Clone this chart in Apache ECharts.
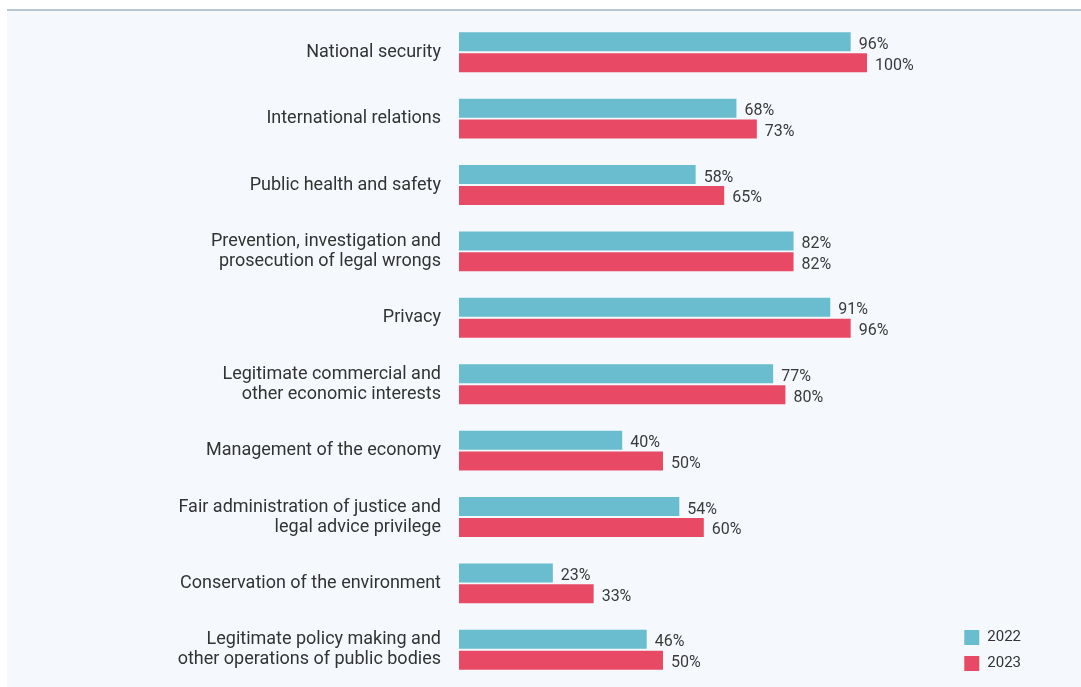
<!DOCTYPE html>
<html><head><meta charset="utf-8">
<script src="https://cdn.jsdelivr.net/npm/echarts@6/dist/echarts.min.js"></script>
<style>
html,body{margin:0;padding:0;background:#ffffff;width:1081px;height:687px;overflow:hidden;}
#panel{position:absolute;left:7px;top:9px;width:1074px;height:678px;background:#f5f9fd;border-top:2px solid #b9c5d1;box-sizing:border-box;}
#chart{position:absolute;left:0;top:0;width:1081px;height:687px;}
</style></head>
<body>
<div id="panel"></div>
<div id="chart"></div>
<script>
const categories = [
  "National security",
  "International relations",
  "Public health and safety",
  "Prevention, investigation and\nprosecution of legal wrongs",
  "Privacy",
  "Legitimate commercial and\nother economic interests",
  "Management of the economy",
  "Fair administration of justice and\nlegal advice privilege",
  "Conservation of the environment",
  "Legitimate policy making and\nother operations of public bodies"
];
const values2022 = [96, 68, 58, 82, 91, 77, 40, 54, 23, 46];
const values2023 = [100, 73, 65, 82, 96, 80, 50, 60, 33, 50];
const seriesNames = ["2022", "2023"];

const FONT = "Roboto";
const chart = echarts.init(document.getElementById('chart'), null, {renderer:'canvas'});
const labelCfg = {
  show: true, position: 'right', distance: 8, offset:[0,3],
  formatter: p => p.value + '%',
  color: '#3a3a3a', fontFamily: FONT, fontSize: 16
};
chart.setOption({
  animation: false,
  backgroundColor: 'transparent',
  grid: {left: 459, right: 214, top: 19, bottom: 4, containLabel: false},
  legend: {
    orient: 'vertical', right: 55, bottom: 11,
    itemWidth: 15, itemHeight: 15, itemGap: 11,
    icon: 'rect',
    textStyle: {fontFamily: FONT, fontSize: 15, color: '#333', padding: [0,0,0,3]},
    data: seriesNames
  },
  xAxis: {type:'value', min:0, max:100, show:false},
  yAxis: {
    type:'category', data: categories, inverse: true,
    axisLine:{show:false}, axisTick:{show:false},
    axisLabel:{fontFamily: FONT, fontSize: 18, color:'#333', margin: 18, lineHeight: 20, padding: [4,0,0,0]}
  },
  series: [
    {name: seriesNames[0], type:'bar', data: values2022, barWidth: 19, barGap: '10%',
     itemStyle:{color:'#69bdce'}, label: labelCfg},
    {name: seriesNames[1], type:'bar', data: values2023, barWidth: 19, barGap: '10%',
     itemStyle:{color:'#e84a65'}, label: labelCfg}
  ]
});
</script>
</body></html>
